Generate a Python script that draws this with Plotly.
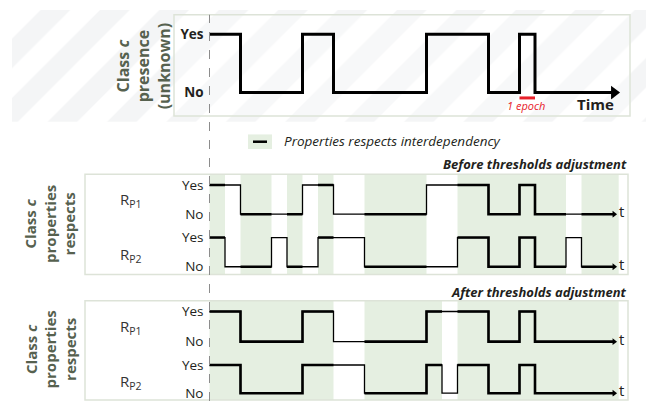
import plotly.graph_objects as go

# --- data: epochs at which each signal changes, and the state it takes (1 = Yes, 0 = No)
presence_t = [0, 2, 6, 8, 14, 18, 20, 21]
presence_v = [1, 0, 1, 0, 1, 0, 1, 0]

before_p1_t = [0, 2, 6, 8, 14, 18, 20, 21]
before_p1_v = [1, 0, 1, 0, 1, 0, 1, 0]
before_p2_t = [0, 1, 4, 5, 7, 10, 16, 18, 20, 21, 23, 24]
before_p2_v = [1, 0, 1, 0, 1, 0, 1, 0, 1, 0, 1, 0]

after_p1_t = [0, 2, 6, 8, 14, 18, 20, 21]
after_p1_v = [1, 0, 1, 0, 1, 0, 1, 0]
after_p2_t = [0, 2, 6, 10, 14, 15, 16, 18, 20, 21]
after_p2_v = [1, 0, 1, 0, 1, 0, 1, 0, 1, 0]

state_labels = ["No", "Yes"]

# --- layout constants
W, H = 646, 406
X0_PX, EPOCH_PX = 209.5, 15.5
T_END = 26.1
SHADE_END = 26.4
PAD = 0.12
FONT = "Open Sans"
TXT = "#231f20"
LBL = "#56614f"
GREEN = "#e5efe1"
BORDER = "#dde3d8"


def px_x(p):
    return p / W


def px_y(p):
    return 1 - p / H


def ep(p):
    return (p - X0_PX) / EPOCH_PX


def state_at(ts, vs, t):
    s = vs[0]
    for ti, vi in zip(ts, vs):
        if ti <= t:
            s = vi
    return s


def agree_intervals(t1, v1, t2, v2):
    cuts = sorted(set(t1 + t2 + [SHADE_END]))
    out = []
    for a, b in zip(cuts[:-1], cuts[1:]):
        m = (a + b) / 2
        if state_at(t1, v1, m) == state_at(t2, v2, m):
            if out and out[-1][1] == a:
                out[-1][1] = b
            else:
                out.append([a, b])
    return out


fig = go.Figure()

# hatched background of the top panel (on the main x / pixel-y subplot)
fig.add_trace(go.Scatter(
    x=[ep(12), ep(646), ep(646), ep(12), ep(12)], y=[4, 4, 119, 119, 4],
    fill="toself", mode="lines", line=dict(width=0, color="rgba(0,0,0,0)"),
    fillcolor="white",
    fillpattern=dict(shape="/", size=42, solidity=0.5, fgcolor="#eaecee", bgcolor="white"),
    hoverinfo="skip", showlegend=False, xaxis="x", yaxis="y"))
fig.add_trace(go.Scatter(
    x=[ep(174), ep(630), ep(630), ep(174), ep(174)], y=[9, 9, 113, 113, 9],
    fill="toself", mode="lines", line=dict(width=0, color="rgba(0,0,0,0)"),
    fillcolor="rgba(255,255,255,0.3)",
    hoverinfo="skip", showlegend=False, xaxis="x", yaxis="y"))

# rows: (axis name, yes px, no px, times, values, partner, top panel?)
rows = [
    ("y2", 29, 89, presence_t, presence_v, None, True),
    ("y3", 184, 214, before_p1_t, before_p1_v, (before_p2_t, before_p2_v), False),
    ("y4", 238, 268, before_p2_t, before_p2_v, (before_p1_t, before_p1_v), False),
    ("y5", 314, 345, after_p1_t, after_p1_v, (after_p2_t, after_p2_v), False),
    ("y6", 369, 398, after_p2_t, after_p2_v, (after_p1_t, after_p1_v), False),
]

layout_axes = {}
for name, yes_px, no_px, ts, vs, partner, top in rows:
    unit = no_px - yes_px
    layout_axes["yaxis" + name[1:]] = dict(
        domain=[px_y(no_px + PAD * unit), px_y(yes_px - PAD * unit)],
        range=[-PAD, 1 + PAD], anchor="free", position=X0_PX / W, side="left",
        tickvals=[0, 1], ticktext=state_labels, ticks="", showgrid=False,
        zeroline=False, showline=False, fixedrange=True, ticklabelstandoff=6,
        tickfont=dict(family=FONT, size=13.5, color=TXT, weight="bold" if top else "normal"))

    xs = ts + [T_END]
    ys = vs + [vs[-1]]
    fig.add_trace(go.Scatter(
        x=xs, y=ys, mode="lines", line=dict(shape="hv", color="black", width=3 if top else 1.3),
        hoverinfo="skip", showlegend=False, xaxis="x", yaxis=name))
    if partner is not None:
        for a, b in agree_intervals(ts, vs, partner[0], partner[1]):
            b = min(b, T_END)
            inner = [t for t in ts if a < t < b]
            sx = [a] + inner + [b]
            sy = [state_at(ts, vs, a)] + [state_at(ts, vs, t) for t in inner] + [state_at(ts, vs, b - 1e-6)]
            fig.add_trace(go.Scatter(
                x=sx, y=sy, mode="lines", line=dict(shape="hv", color="black", width=2.6),
                hoverinfo="skip", showlegend=False, xaxis="x", yaxis=name))
    fig.add_trace(go.Scatter(
        x=[T_END], y=[vs[-1]], mode="markers",
        marker=dict(symbol="triangle-right", size=12 if top else 6, color="black"),
        hoverinfo="skip", showlegend=False, xaxis="x", yaxis=name))
    if not top:
        fig.add_annotation(x=T_END, y=vs[-1], xref="x", yref=name, text="t", showarrow=False,
                           xanchor="left", yanchor="middle", xshift=3, yshift=3,
                           font=dict(family=FONT, size=15, color=TXT))

shapes = []
# interdependency shading (derived from agreement of the two properties)
for (p1t, p1v, p2t, p2v), (top_px, bot_px) in [
        ((before_p1_t, before_p1_v, before_p2_t, before_p2_v), (173, 276)),
        ((after_p1_t, after_p1_v, after_p2_t, after_p2_v), (303, 405))]:
    for a, b in agree_intervals(p1t, p1v, p2t, p2v):
        shapes.append(dict(type="rect", xref="x", yref="paper", x0=a, x1=b,
                           y0=px_y(bot_px), y1=px_y(top_px), fillcolor=GREEN,
                           line=dict(width=0), layer="below"))
    shapes.append(dict(type="rect", xref="paper", yref="paper", x0=px_x(85), x1=px_x(628),
                       y0=px_y(bot_px), y1=px_y(top_px), line=dict(color=BORDER, width=1.5),
                       layer="above"))

# top panel border
shapes.append(dict(type="rect", xref="paper", yref="paper", x0=px_x(174), x1=px_x(630),
                   y0=px_y(113), y1=px_y(9), line=dict(color=BORDER, width=1.5), layer="above"))
# epoch marker under the last one-epoch pulse
shapes.append(dict(type="line", xref="x", yref="paper", x0=presence_t[-2], x1=presence_t[-1],
                   y0=px_y(94.5), y1=px_y(94.5), line=dict(color="#e8202a", width=3), layer="above"))
# dashed time origin
shapes.append(dict(type="line", xref="x", yref="paper", x0=0, x1=0, y0=0, y1=px_y(9),
                   line=dict(color="#8c8c8c", width=1, dash="dash"), layer="above"))
# legend swatch
shapes.append(dict(type="rect", xref="paper", yref="paper", x0=px_x(248), x1=px_x(272),
                   y0=px_y(147), y1=px_y(132), fillcolor=GREEN, line=dict(width=0)))
shapes.append(dict(type="line", xref="paper", yref="paper", x0=px_x(253), x1=px_x(267),
                   y0=px_y(139.5), y1=px_y(139.5), line=dict(color="black", width=2.5)))

ann = [
    dict(x=px_x(144), y=px_y(62), text="<b>Class <i>c</i><br>presence<br>(unknown)</b>",
         textangle=-90, font=dict(family=FONT, size=16, color=LBL)),
    dict(x=px_x(50), y=px_y(224), text="<b>Class <i>c</i><br>properties<br>respects</b>",
         textangle=-90, font=dict(family=FONT, size=15, color=LBL)),
    dict(x=px_x(50), y=px_y(353), text="<b>Class <i>c</i><br>properties<br>respects</b>",
         textangle=-90, font=dict(family=FONT, size=15, color=LBL)),
    dict(x=px_x(616), y=px_y(101), text="<b>Time</b>", xanchor="right",
         font=dict(family=FONT, size=15, color=TXT)),
    dict(x=px_x(526), y=px_y(102), text="<i>1 epoch</i>",
         font=dict(family=FONT, size=11, color="#e8202a")),
    dict(x=px_x(282), y=px_y(139), text="<i>Properties respects interdependency</i>", xanchor="left",
         font=dict(family=FONT, size=13.5, color=TXT)),
    dict(x=px_x(629), y=px_y(162), text="<b><i>Before thresholds adjustment</i></b>", xanchor="right",
         font=dict(family=FONT, size=13, color=TXT)),
    dict(x=px_x(629), y=px_y(294), text="<b><i>After thresholds adjustment</i></b>", xanchor="right",
         font=dict(family=FONT, size=13, color=TXT)),
]
for y in [199, 256, 330, 386]:
    ann.append(dict(x=px_x(131), y=px_y(y), text="R<sub>P1</sub>" if y in (199, 330) else "R<sub>P2</sub>",
                    font=dict(family=FONT, size=15, color="#333333")))
for a in ann:
    a.setdefault("xanchor", "center")
    a.update(xref="paper", yref="paper", yanchor="middle", showarrow=False)
    fig.add_annotation(**a)

fig.update_layout(
    width=W, height=H, margin=dict(l=0, r=0, t=0, b=0), autosize=False,
    paper_bgcolor="white", plot_bgcolor="rgba(0,0,0,0)", showlegend=False,
    xaxis=dict(domain=[0, 1], range=[ep(0), ep(W)], visible=False, fixedrange=True, anchor="y"),
    yaxis=dict(domain=[0, 1], range=[H, 0], visible=False, fixedrange=True),
    shapes=shapes, **layout_axes)

# page body has a default margin; drop it so the figure sits at the window origin
fig.write_html("out.html", config={"displayModeBar": False},
               post_script="document.body.style.margin='0px';")
